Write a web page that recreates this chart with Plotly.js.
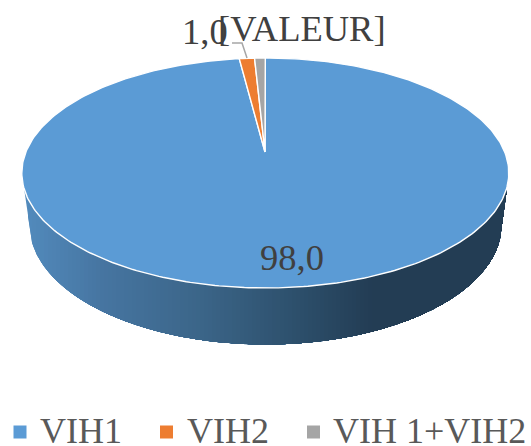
<!DOCTYPE html>
<html>
<head>
<meta charset="utf-8">
<script src="https://cdn.plot.ly/plotly-3.0.1.min.js"></script>
<style>html,body{margin:0;padding:0;background:#fff;overflow:hidden}</style>
</head>
<body>
<div id="chart" style="width:531px;height:446px"></div>
<script>
// Data
const categories = ["VIH1", "VIH2", "VIH 1+VIH2"];
const values = [98.0, 1.0, 0.7];
const valueLabels = ["98,0", "1,0", "[VALEUR]"];
const colors = ["#5B9BD5", "#ED7D31", "#A5A5A5"];

// Projection of the 3D pie onto the page (axes run in page units)
const top3d = {cx: 265.3, cy: 173, rx: 243.5, ry: 115, apexX: 265, apexY: 152};
const base3d = {cx: 265.5, cy: 225, rx: 236, ry: 119.5};
const rad = d => d * Math.PI / 180;
function rim(deg) {
  const a = rad(deg);
  return [top3d.cx + top3d.rx * Math.sin(a), top3d.cy - top3d.ry * Math.cos(a)];
}
const total = values.reduce((a, b) => a + b, 0);
const traces = [];

// Side wall: painted from the left, each layer running to the right end
const wallL = 24, wallR = 507, shoulderL = 31, shoulderR = 500, wallTop = 188;
function baseY(x) {
  const t = (x - base3d.cx) / base3d.rx;
  return base3d.cy + base3d.ry * Math.sqrt(Math.max(0, 1 - t * t));
}
function lowerEdge(x) {
  if (x <= shoulderL) return wallTop + (x - wallL) / (shoulderL - wallL) * (baseY(shoulderL) - wallTop);
  if (x >= shoulderR) return wallTop + (wallR - x) / (wallR - shoulderR) * (baseY(shoulderR) - wallTop);
  return baseY(x);
}
const stops = [[24, [82, 138, 188]], [100, [70, 117, 161]], [200, [59, 101, 136]], [300, [44, 78, 106]], [370, [35, 61, 84]], [507, [35, 61, 84]]];
function wallColor(x) {
  for (let i = 1; i < stops.length; i++) {
    if (x <= stops[i][0]) {
      const a = stops[i - 1], b = stops[i], t = (x - a[0]) / (b[0] - a[0]);
      const c = a[1].map((v, k) => Math.round(v + (b[1][k] - v) * t));
      return `rgb(${c.join(",")})`;
    }
  }
  return "rgb(35,61,84)";
}
for (let x0 = wallL; x0 < wallR; x0 += 4) {
  const xs = [], ys = [];
  for (let x = x0; x <= wallR; x += 1) { xs.push(x); ys.push(lowerEdge(x)); }
  xs.push(wallR, x0); ys.push(180, 180);
  traces.push({type: "scatter", mode: "lines", x: xs, y: ys, fill: "toself", fillcolor: wallColor(x0),
    line: {width: 0}, showlegend: false, hoverinfo: "skip"});
}

// Slices
let start = 0;
categories.forEach((name, i) => {
  const sweep = values[i] / total * 360;
  const xs = [top3d.apexX], ys = [top3d.apexY];
  const n = Math.max(2, Math.ceil(sweep));
  for (let k = 0; k <= n; k++) {
    const p = rim(start + sweep * k / n);
    xs.push(p[0]); ys.push(p[1]);
  }
  xs.push(top3d.apexX); ys.push(top3d.apexY);
  traces.push({type: "scatter", mode: "lines", x: xs, y: ys, fill: "toself", fillcolor: colors[i],
    line: {color: "#FFFFFF", width: 1.4}, name: name, showlegend: false, hoverinfo: "name"});
  start += sweep;
});

// Leader line of the VIH2 label
traces.push({type: "scatter", mode: "lines", x: [232, 242, 247], y: [43, 43, 58],
  line: {color: "#A6A6A6", width: 1.5}, showlegend: false, hoverinfo: "skip"});

// Legend keys
const legendKeyX = [20, 166.5, 313.5];
traces.push({type: "scatter", mode: "markers", x: legendKeyX, y: [432, 432, 432],
  marker: {symbol: "square", size: 13, color: colors, line: {width: 0}}, showlegend: false, hoverinfo: "skip"});

const serifFamily = "Liberation Serif";
const legendTextX = [38, 184.5, 331];
const annotations = [];
categories.forEach((name, i) => annotations.push({xref: "x", yref: "y", x: legendTextX[i], y: 431, text: name,
  showarrow: false, xanchor: "left", yanchor: "middle", font: {family: serifFamily, size: 36, color: "#595959"}}));
const labelPos = [[291.5, 257], [205, 31.5], [301.5, 28]];
valueLabels.forEach((t, i) => annotations.push({xref: "x", yref: "y", x: labelPos[i][0], y: labelPos[i][1], text: t,
  showarrow: false, xanchor: "center", yanchor: "middle", font: {family: serifFamily, size: 36.5, color: "#404040"}}));

Plotly.newPlot("chart", traces, {
  width: 531, height: 446,
  margin: {l: 0, r: 0, t: 0, b: 0},
  paper_bgcolor: "#fff", plot_bgcolor: "#fff",
  font: {family: serifFamily},
  showlegend: false,
  xaxis: {range: [0, 531], visible: false, fixedrange: true},
  yaxis: {range: [446, 0], visible: false, fixedrange: true},
  annotations: annotations
}, {displayModeBar: false});
</script>
</body>
</html>
